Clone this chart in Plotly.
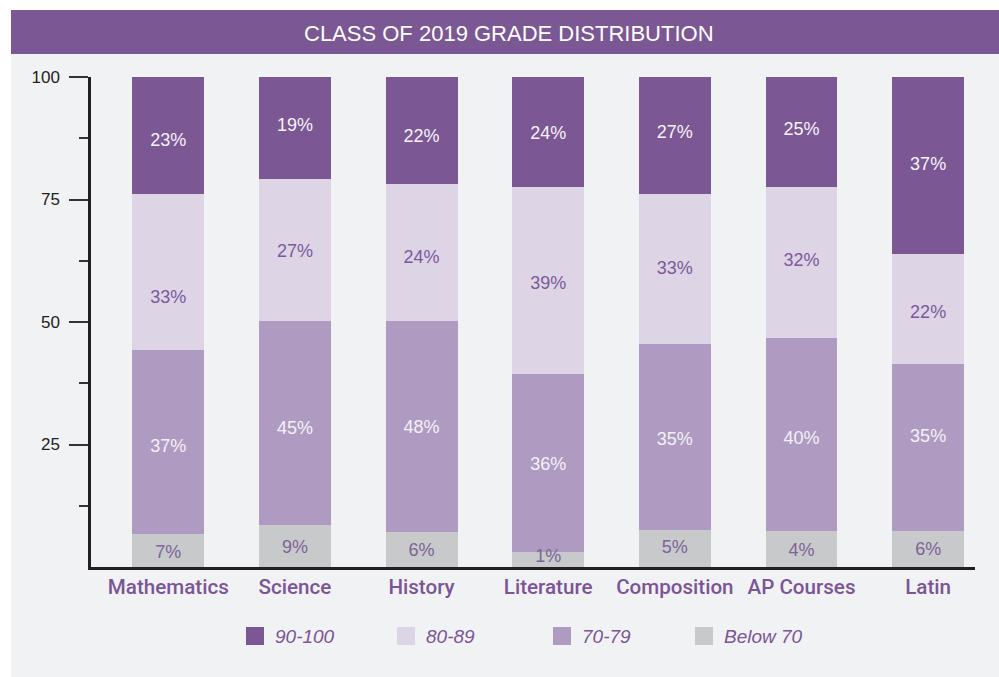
import numpy as np
import plotly.graph_objects as go

# ---------------- data ----------------
categories = ["Mathematics", "Science", "History", "Literature", "Composition", "AP Courses", "Latin"]
series_names = ["Below 70", "70-79", "80-89", "90-100"]
# segment heights as drawn
below70 = [6.8, 8.6, 7.2, 3.0, 7.6, 7.4, 7.4]
g70_79 = [37.4, 41.7, 43.1, 36.3, 38.0, 39.4, 34.0]
g80_89 = [31.9, 28.9, 27.8, 38.2, 30.5, 30.7, 22.4]
g90_100 = [23.9, 20.8, 21.9, 22.5, 23.9, 22.5, 36.2]
# printed labels
lbl_below70 = ["7%", "9%", "6%", "1%", "5%", "4%", "6%"]
lbl_70_79 = ["37%", "45%", "48%", "36%", "35%", "40%", "35%"]
lbl_80_89 = ["33%", "27%", "24%", "39%", "33%", "32%", "22%"]
lbl_90_100 = ["23%", "19%", "22%", "24%", "27%", "25%", "37%"]
y_tickvals = [25, 50, 75, 100]
y_minor = [12.5, 37.5, 62.5, 87.5]

# ---------------- styles ----------------
W, H = 999, 677
ML, MR, MT, MB = 91, 24, 77, 110
PX_PER_UNIT = (H - MT - MB) / 100.0
PURPLE = "#7b5794"
TEXT_PURPLE = "#7b5595"
colors = ["#c8c9cb", "#af9bc2", "#ddd4e6", "#7b5794"]
label_colors = ["#7d6497", "#f4f0f7", "#7b5a9a", "#f7f3fa"]
FONT = "Liberation Sans, Arial, Helvetica, sans-serif"
CAT_FONT = "Roboto, Liberation Sans, Arial, sans-serif"
# small downward nudges (pixels) of each label from its segment's midpoint
label_nudge_px = [
    [3, 3, 2, -2, 0, 3, 2],
    [5, 7, 2, 2, 4, 5, -10],
    [26, 3, 6, 4, 1, -1, 4],
    [6, -1, 7, 2, -2, -2, 0],
]

heights = [below70, g70_79, g80_89, g90_100]
labels = [lbl_below70, lbl_70_79, lbl_80_89, lbl_90_100]

fig = go.Figure()
for name, h, col in zip(series_names, heights, colors):
    fig.add_trace(go.Bar(
        x=categories, y=h, name=name, marker=dict(color=col, line=dict(width=0)),
        width=0.568, showlegend=False, hoverinfo="skip"))

# data labels at segment midpoints
base = np.zeros(len(categories))
for h, lab, lc, nudge in zip(heights, labels, label_colors, label_nudge_px):
    h = np.array(h)
    mid = base + h / 2 - np.array(nudge) / PX_PER_UNIT
    fig.add_trace(go.Scatter(
        x=categories, y=mid, mode="text", text=lab,
        textfont=dict(family=FONT, size=18, color=lc),
        showlegend=False, hoverinfo="skip"))
    base = base + h


def px_x(px):
    return (px - ML) / (W - ML - MR)


def px_y(py):
    return (H - MB - py) / (H - MT - MB)


shapes = []
annotations = []
# background panel
shapes.append(dict(type="rect", xref="paper", yref="paper", x0=px_x(11), x1=px_x(W + 5),
                   y0=px_y(H + 5), y1=px_y(54), fillcolor="#f1f2f4", line=dict(width=0), layer="below"))
# title bar
shapes.append(dict(type="rect", xref="paper", yref="paper", x0=px_x(11), x1=px_x(W + 5),
                   y0=px_y(54), y1=px_y(10), fillcolor=PURPLE, line=dict(width=0), layer="below"))
annotations.append(dict(text="CLASS OF 2019 GRADE DISTRIBUTION", xref="paper", yref="paper",
                        x=px_x(509), y=px_y(33), showarrow=False, xanchor="center", yanchor="middle",
                        font=dict(family=FONT, size=22, color="white")))

# manual legend
legend_order = [3, 2, 1, 0]
legend_x = [246, 397, 553, 695]
sq = 18
for lx, idx in zip(legend_x, legend_order):
    shapes.append(dict(type="rect", xref="paper", yref="paper", x0=px_x(lx), x1=px_x(lx + sq),
                       y0=px_y(636 + sq / 2), y1=px_y(636 - sq / 2), fillcolor=colors[idx],
                       line=dict(width=0)))
    annotations.append(dict(text="<i>" + series_names[idx] + "</i>", xref="paper", yref="paper",
                            x=px_x(lx + 27), y=px_y(636), showarrow=False, xanchor="left",
                            yanchor="middle", font=dict(family=FONT, size=19, color=TEXT_PURPLE)))

fig.update_layout(
    width=W, height=H, barmode="stack",
    margin=dict(l=ML, r=MR, t=MT, b=MB, pad=0),
    paper_bgcolor="white", plot_bgcolor="rgba(0,0,0,0)",
    shapes=shapes, annotations=annotations,
    font=dict(family=FONT),
    xaxis=dict(type="category", range=[-0.61, 6.37], showline=True, linecolor="#231f20",
               linewidth=2.5, ticks="", showgrid=False, zeroline=False,
               tickfont=dict(family=CAT_FONT, size=20.6, color=TEXT_PURPLE, weight=500),
               ticklabelstandoff=0),
    yaxis=dict(range=[0, 100], showline=True, linecolor="#231f20", linewidth=2.5,
               tickvals=y_tickvals, ticktext=[str(v) for v in y_tickvals],
               ticks="outside", ticklen=19, tickwidth=1.5, tickcolor="#333333",
               minor=dict(tickvals=y_minor, ticks="outside", ticklen=9, tickwidth=1.5,
                          tickcolor="#333333"),
               showgrid=False, zeroline=False, ticklabelstandoff=6,
               tickfont=dict(family=FONT, size=17, color="#222222")),
)

fig.write_html("out.html")
